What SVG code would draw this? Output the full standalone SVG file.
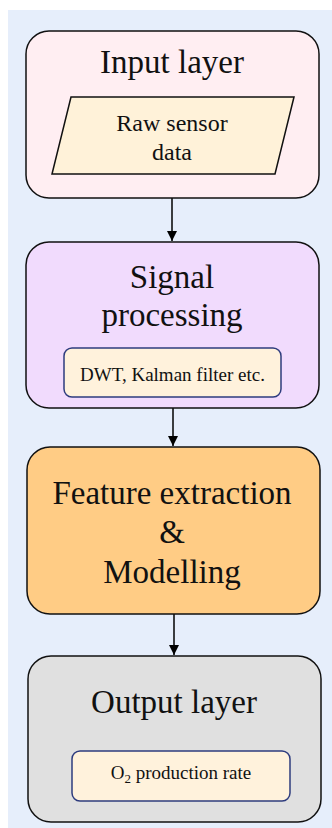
<svg xmlns="http://www.w3.org/2000/svg" width="332" height="828" viewBox="0 0 332 828">
<defs>
<marker id="arr" viewBox="0 0 10 10" refX="10" refY="5" markerWidth="10" markerHeight="10" markerUnits="userSpaceOnUse" orient="auto">
<path d="M0,0 L10,5 L0,10 z" fill="#000"/>
</marker>
</defs>
<style>
.box{stroke:#111;stroke-width:1.5}
.inner{fill:#FFF2DC;stroke:#2E3C7E;stroke-width:1.5}
text{font-family:'Liberation Serif','Times New Roman','DejaVu Serif',serif;fill:#111;text-anchor:middle}
.title{font-size:33px}
.sub{font-size:24px}
.small{font-size:19px}
.conn{stroke:#000;stroke-width:1.5;fill:none}
</style>
<rect x="8" y="10" width="330" height="825" fill="#E6EEFB"/>
<g id="connectors">
<line class="conn" x1="172" y1="198" x2="172" y2="241" marker-end="url(#arr)"/>
<line class="conn" x1="173" y1="408" x2="173" y2="446" marker-end="url(#arr)"/>
<line class="conn" x1="174" y1="614" x2="174" y2="655" marker-end="url(#arr)"/>
</g>
<g id="input-layer">
<rect class="box" x="26" y="31" width="293" height="167" rx="23" fill="#FFEEF2"/>
<text class="title" x="172" y="73">Input layer</text>
<polygon class="box" points="71,97 294,97 275,174 52,174" fill="#FFF2D9"/>
<text class="sub" x="172" y="131">Raw sensor</text>
<text class="sub" x="172" y="160">data</text>
</g>
<g id="signal-processing">
<rect class="box" x="26" y="242" width="293" height="166" rx="23" fill="#F1DBFD"/>
<text class="title" x="172" y="288">Signal</text>
<text class="title" x="172" y="326">processing</text>
<rect class="inner" x="64" y="348" width="217" height="49" rx="8"/>
<text class="small" x="172.5" y="381">DWT, Kalman filter etc.</text>
</g>
<g id="feature-extraction">
<rect class="box" x="27" y="447" width="293" height="167" rx="23" fill="#FFCC85"/>
<text class="title" x="172" y="504">Feature extraction</text>
<text class="title" x="172" y="543">&amp;</text>
<text class="title" x="172" y="583">Modelling</text>
</g>
<g id="output-layer">
<rect class="box" x="28" y="656" width="293" height="166" rx="23" fill="#E0E0E0"/>
<text class="title" x="174" y="713">Output layer</text>
<rect class="inner" x="72" y="751" width="218" height="50" rx="8"/>
<text class="small" x="181" y="779">O<tspan font-size="13" dy="4">2</tspan><tspan dy="-4"> production rate</tspan></text>
</g>
</svg>
